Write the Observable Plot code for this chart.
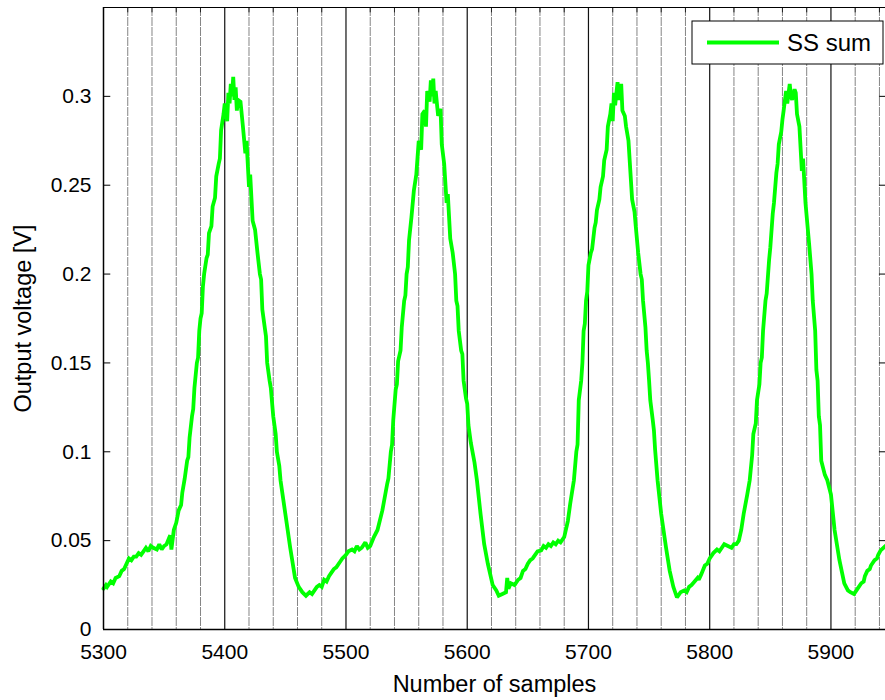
<!DOCTYPE html>
<html>
<head>
<meta charset="utf-8">
<script src="https://cdn.jsdelivr.net/npm/d3@7"></script>
<script src="https://cdn.jsdelivr.net/npm/@observablehq/plot@0.6"></script>
<style>
  html, body { margin: 0; padding: 0; background: #fff; }
  #chart { position: relative; width: 885px; height: 700px; }
</style>
</head>
<body>
<div id="chart"></div>
<script>
// ---- data ----
const seriesName = "SS sum";
const xLabel = "Number of samples";
const yLabel = "Output voltage [V]";
const xTicks = [5300, 5400, 5500, 5600, 5700, 5800, 5900];
const yTicks = [0, 0.05, 0.1, 0.15, 0.2, 0.25, 0.3];
const frameLines = [5400, 5500, 5600, 5700, 5800, 5900];
const subFrameLines = [5320, 5340, 5360, 5380, 5420, 5440, 5460, 5480, 5520, 5540, 5560, 5580,
  5620, 5640, 5660, 5680, 5720, 5740, 5760, 5780, 5820, 5840, 5860, 5880, 5920, 5940];
const ssSum = [
  [5300,0.023],[5302,0.025],[5303,0.024],[5306,0.027],[5308,0.026],[5310,0.029],[5313,0.030],
  [5315,0.033],[5317,0.034],[5319,0.037],[5321,0.040],[5323,0.039],[5325,0.041],[5327,0.041],
  [5329,0.043],[5331,0.042],[5333,0.044],[5335,0.046],[5337,0.044],[5339,0.047],[5341,0.046],
  [5344,0.045],[5346,0.048],[5348,0.045],[5350,0.047],[5352,0.048],[5355,0.053],[5356,0.045],
  [5358,0.056],[5360,0.060],[5362,0.067],[5364,0.070],[5365,0.077],[5367,0.085],[5369,0.095],
  [5370,0.097],[5371,0.108],[5373,0.120],[5374,0.124],[5375,0.136],[5377,0.150],[5378,0.153],
  [5379,0.168],[5380,0.175],[5381,0.178],[5382,0.193],[5383,0.200],[5385,0.209],[5386,0.211],
  [5387,0.223],[5389,0.227],[5390,0.238],[5392,0.243],[5393,0.255],[5395,0.262],[5396,0.265],
  [5397,0.281],[5399,0.290],[5400,0.296],[5402,0.286],[5403,0.302],[5404,0.296],[5405,0.307],
  [5406,0.300],[5407,0.311],[5408,0.298],[5409,0.305],[5410,0.292],[5411,0.298],[5413,0.297],
  [5415,0.283],[5417,0.268],[5418,0.275],[5420,0.249],[5421,0.256],[5423,0.230],[5425,0.225],
  [5427,0.212],[5429,0.200],[5430,0.197],[5431,0.180],[5433,0.170],[5434,0.165],[5435,0.150],
  [5437,0.140],[5438,0.136],[5440,0.120],[5442,0.110],[5443,0.100],[5445,0.092],[5446,0.084],
  [5450,0.065],[5454,0.046],[5458,0.029],[5461,0.024],[5464,0.021],[5467,0.019],[5470,0.021],
  [5472,0.020],[5474,0.022],[5476,0.024],[5478,0.025],[5480,0.024],[5482,0.028],[5484,0.027],
  [5486,0.030],[5488,0.032],[5490,0.034],[5492,0.035],[5495,0.038],[5497,0.040],[5500,0.042],
  [5502,0.044],[5505,0.045],[5507,0.044],[5509,0.047],[5511,0.045],[5513,0.046],[5516,0.049],
  [5518,0.046],[5520,0.047],[5523,0.052],[5526,0.056],[5530,0.067],[5534,0.082],[5535,0.085],
  [5537,0.100],[5538,0.104],[5539,0.118],[5541,0.135],[5542,0.138],[5543,0.151],[5545,0.157],
  [5546,0.170],[5548,0.185],[5549,0.188],[5550,0.200],[5551,0.204],[5552,0.219],[5554,0.232],
  [5556,0.247],[5558,0.256],[5560,0.275],[5562,0.270],[5563,0.290],[5565,0.292],[5566,0.283],
  [5567,0.303],[5569,0.297],[5570,0.309],[5571,0.300],[5572,0.310],[5573,0.296],[5574,0.303],
  [5576,0.289],[5578,0.293],[5579,0.273],[5581,0.262],[5583,0.240],[5584,0.245],[5586,0.220],
  [5588,0.212],[5590,0.200],[5591,0.185],[5592,0.182],[5593,0.168],[5595,0.157],[5596,0.155],
  [5597,0.140],[5599,0.130],[5600,0.127],[5601,0.115],[5603,0.105],[5606,0.094],[5608,0.084],
  [5611,0.065],[5614,0.048],[5617,0.037],[5621,0.025],[5624,0.022],[5626,0.019],[5629,0.020],
  [5632,0.021],[5633,0.029],[5634,0.023],[5636,0.026],[5639,0.025],[5642,0.028],[5644,0.029],
  [5646,0.033],[5648,0.034],[5650,0.037],[5652,0.039],[5654,0.040],[5656,0.042],[5658,0.044],
  [5661,0.0445],[5663,0.047],[5665,0.046],[5667,0.048],[5669,0.047],[5671,0.049],[5673,0.048],
  [5675,0.050],[5677,0.049],[5680,0.052],[5683,0.061],[5685,0.071],[5688,0.084],[5690,0.100],
  [5691,0.104],[5692,0.129],[5694,0.140],[5695,0.150],[5696,0.168],[5697,0.172],[5698,0.185],
  [5699,0.190],[5700,0.205],[5702,0.212],[5703,0.214],[5705,0.226],[5706,0.229],[5707,0.236],
  [5709,0.242],[5710,0.249],[5712,0.255],[5713,0.264],[5715,0.270],[5716,0.283],[5718,0.290],
  [5719,0.296],[5720,0.286],[5721,0.302],[5722,0.295],[5724,0.308],[5725,0.298],[5727,0.307],
  [5728,0.292],[5730,0.289],[5731,0.283],[5733,0.275],[5734,0.264],[5736,0.242],[5738,0.235],
  [5739,0.227],[5741,0.212],[5743,0.200],[5744,0.197],[5745,0.185],[5747,0.170],[5748,0.157],
  [5749,0.150],[5750,0.140],[5751,0.129],[5753,0.118],[5754,0.112],[5755,0.101],[5757,0.084],
  [5760,0.065],[5764,0.046],[5767,0.033],[5770,0.024],[5773,0.018],[5776,0.021],[5779,0.022],
  [5781,0.021],[5783,0.024],[5785,0.025],[5787,0.0266],[5790,0.029],[5791,0.028],[5793,0.031],
  [5796,0.036],[5798,0.037],[5800,0.040],[5803,0.043],[5806,0.045],[5808,0.044],[5810,0.046],
  [5812,0.048],[5815,0.047],[5818,0.046],[5820,0.048],[5822,0.048],[5824,0.050],[5826,0.056],
  [5828,0.065],[5831,0.076],[5833,0.084],[5835,0.098],[5836,0.110],[5838,0.116],[5839,0.129],
  [5841,0.138],[5842,0.150],[5843,0.153],[5844,0.168],[5846,0.185],[5847,0.189],[5849,0.208],
  [5850,0.215],[5852,0.234],[5853,0.240],[5855,0.257],[5856,0.262],[5857,0.273],[5859,0.280],
  [5860,0.287],[5861,0.292],[5863,0.303],[5864,0.296],[5866,0.307],[5867,0.300],[5868,0.298],
  [5870,0.304],[5871,0.302],[5872,0.290],[5874,0.283],[5876,0.258],[5877,0.265],[5879,0.240],
  [5882,0.217],[5884,0.200],[5885,0.185],[5887,0.168],[5888,0.146],[5889,0.140],[5890,0.120],
  [5891,0.115],[5892,0.095],[5895,0.087],[5897,0.084],[5900,0.076],[5903,0.056],[5907,0.039],
  [5911,0.026],[5914,0.022],[5916,0.021],[5919,0.020],[5922,0.023],[5925,0.026],[5927,0.027],
  [5928,0.030],[5930,0.033],[5932,0.034],[5933,0.036],[5936,0.039],[5938,0.040],[5939,0.042],
  [5941,0.0445],[5945,0.047]
];
const xDomain = [5300, 5945];
const yDomain = [0, 0.35];

// ---- chart ----
const FONT = "'Liberation Sans', Arial, Helvetica, sans-serif";
const chart = Plot.plot({
  width: 885,
  height: 700,
  marginLeft: 103,
  marginRight: 0,
  marginTop: 7,
  marginBottom: 71,
  style: { fontFamily: FONT, fontSize: "21px", color: "#000", background: "#fff", overflow: "visible" },
  x: { domain: xDomain },
  y: { domain: yDomain },
  marks: [
    Plot.ruleX(subFrameLines, { stroke: "#858585", strokeWidth: 1, strokeDasharray: "9,1" }),
    Plot.ruleX(subFrameLines, { y1: yDomain[1] - 0.003, y2: yDomain[1], stroke: "#222", strokeWidth: 1 }),
    Plot.ruleX(frameLines, { stroke: "#111", strokeWidth: 1.2 }),
    Plot.line(ssSum, { x: d => d[0], y: d => d[1], stroke: "#00ff00", strokeWidth: 3.8, strokeLinejoin: "miter", strokeMiterlimit: 2 }),
    // inward ticks on left and right
    Plot.ruleY(yTicks, { x1: xDomain[0], x2: xDomain[0] + 6, stroke: "#000", strokeWidth: 1 }),
    Plot.ruleY(yTicks, { x1: xDomain[1] - 5, x2: xDomain[1], stroke: "#000", strokeWidth: 1 }),
    // frame
    Plot.ruleX([xDomain[0]], { stroke: "#000", strokeWidth: 1.5 }),
    Plot.ruleY([yDomain[0]], { stroke: "#000", strokeWidth: 1.5 }),
    Plot.ruleY([yDomain[1]], { stroke: "#000", strokeWidth: 1.2 }),
    Plot.axisX({ ticks: xTicks, tickSize: 0, tickPadding: 15, tickFormat: d => String(d),
      label: null }),
    Plot.axisY({ ticks: yTicks, tickSize: 0, tickPadding: 12, tickFormat: d => String(d),
      label: null }),
    Plot.text([xLabel], { frameAnchor: "bottom", dy: 62, fontSize: 23.5, lineAnchor: "bottom", text: d => d }),
    Plot.text([yLabel], { frameAnchor: "left", textAnchor: "middle", dx: -80, rotate: -90, fontSize: 23.5, lineAnchor: "middle", text: d => d })
  ]
});
document.getElementById("chart").appendChild(chart);

// legend (inside the axes, top-right)
const svg = d3.select(chart);
const lg = svg.append("g").attr("class", "legend");
lg.append("rect").attr("x", 692).attr("y", 21).attr("width", 191).attr("height", 43)
  .attr("fill", "#fff").attr("stroke", "#000").attr("stroke-width", 1);
lg.append("line").attr("x1", 707).attr("x2", 779).attr("y1", 42.5).attr("y2", 42.5)
  .attr("stroke", "#00ff00").attr("stroke-width", 4);
lg.append("text").attr("x", 787).attr("y", 43).attr("dy", "0.35em")
  .attr("text-anchor", "start")
  .attr("font-family", FONT).attr("font-size", 24).attr("fill", "#000").text(seriesName);
</script>
</body>
</html>
